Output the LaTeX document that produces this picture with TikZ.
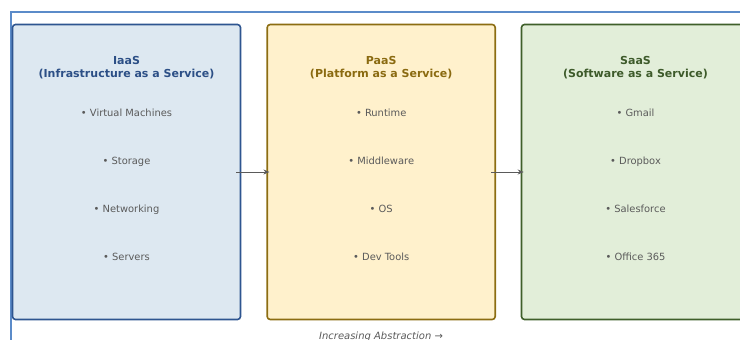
\documentclass[tikz,border=0pt]{standalone}
\usepackage{fontspec}
\setmainfont{DejaVu Sans}
\usetikzlibrary{arrows.meta}
\definecolor{framec}{HTML}{5B8BC9}
\definecolor{iaasfill}{HTML}{DDE8F1}
\definecolor{iaasdraw}{HTML}{2E5590}
\definecolor{iaastext}{HTML}{2C4F86}
\definecolor{paasfill}{HTML}{FFF1CC}
\definecolor{paasdraw}{HTML}{8C6D12}
\definecolor{paastext}{HTML}{8A6A10}
\definecolor{saasfill}{HTML}{E2EED9}
\definecolor{saasdraw}{HTML}{3F5F2A}
\definecolor{saastext}{HTML}{3D5A2A}
\definecolor{itemc}{HTML}{5A5A5A}
\tikzset{
  layerbox/.style={draw, line width=1.6pt, rounded corners=3pt, minimum width=228pt, minimum height=295pt, inner sep=0pt},
  layertitle/.style={font=\fontsize{11}{13}\selectfont\bfseries, align=center, inner sep=0pt},
  item/.style={font=\fontsize{9.9}{12}\selectfont, text=itemc, inner sep=0pt, text height=7.3pt, text depth=2.3pt},
  flow/.style={draw=itemc, line width=0.9pt, -{Stealth[length=6pt,width=5pt]}},
}
\begin{document}
\begin{tikzpicture}[x=1pt,y=-1pt]
\useasboundingbox (0,0) rectangle (740,340);
\clip (0,0) rectangle (740,340);
\draw[framec, line width=1.8pt] (10.6,12.3) rectangle (800,400);
\node[layerbox, fill=iaasfill, draw=iaasdraw] (iaas) at (126.5,172) {};
\node[layerbox, fill=paasfill, draw=paasdraw] (paas) at (381.2,172) {};
\node[layerbox, fill=saasfill, draw=saasdraw] (saas) at (635.5,172) {};
\node[layertitle, text=iaastext] (iaast) at (126.5,67.3) {IaaS\\(Infrastructure as a Service)};
\node[layertitle, text=paastext] (paast) at (381.2,67.3) {PaaS\\(Platform as a Service)};
\node[layertitle, text=saastext] (saast) at (635.5,67.3) {SaaS\\(Software as a Service)};
\node[item] (i1) at (126.5,114) {• Virtual Machines};
\node[item] (i2) at (126.5,162) {• Storage};
\node[item] (i3) at (126.5,210) {• Networking};
\node[item] (i4) at (126.5,258) {• Servers};
\node[item] (p1) at (381.2,114) {• Runtime};
\node[item] (p2) at (381.2,162) {• Middleware};
\node[item] (p3) at (381.2,210) {• OS};
\node[item] (p4) at (381.2,258) {• Dev Tools};
\node[item] (s1) at (635.5,114) {• Gmail};
\node[item] (s2) at (635.5,162) {• Dropbox};
\node[item] (s3) at (635.5,210) {• Salesforce};
\node[item] (s4) at (635.5,258) {• Office 365};
\draw[flow] ([xshift=-5pt]iaas.east) -- ([xshift=3pt]paas.west);
\draw[flow] ([xshift=-5pt]paas.east) -- ([xshift=3pt]saas.west);
\node[font=\fontsize{10}{12}\selectfont\itshape, text=itemc, anchor=base, inner sep=0pt] (axis) at (381,339.8) {Increasing Abstraction →};
\end{tikzpicture}
\end{document}
